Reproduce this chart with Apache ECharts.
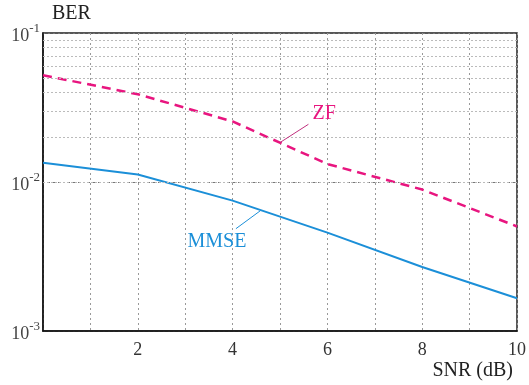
<!DOCTYPE html>
<html>
<head>
<meta charset="utf-8">
<script src="https://cdn.jsdelivr.net/npm/echarts@6/dist/echarts.min.js"></script>
<style>
  html, body { margin: 0; padding: 0; background: #fff; }
  #chart { width: 529px; height: 385px; }
</style>
</head>
<body>
<div id="chart"></div>
<script>
// SNR points (dB) and BER
const snr = [0, 2, 4, 6, 8, 10];
const berZF = [0.0521, 0.0388, 0.0255, 0.0132, 0.0089, 0.00503];
const berMMSE = [0.01346, 0.01123, 0.0075, 0.00457, 0.00269, 0.00166];
// minor grid values of the log axis
const minorTicks = [0.002, 0.003, 0.004, 0.005, 0.006, 0.007, 0.008, 0.009,
                    0.02, 0.03, 0.04, 0.05, 0.06, 0.07, 0.08, 0.09];
const xTickLabels = ['', '', '2', '', '4', '', '6', '', '8', '', '10'];

const zfColor = '#e8157f';
const mmseColor = '#1b8fd8';
const serif = 'Liberation Serif';

const chart = echarts.init(document.getElementById('chart'));

const option = {
    animation: false,
    grid: {
        left: 43, right: 9, top: 33, bottom: 54,
        show: true, borderColor: '#222', borderWidth: 1.5,
        containLabel: false
    },
    xAxis: {
        type: 'value',
        min: 0, max: 10, interval: 1,
        name: 'SNR (dB)',
        nameLocation: 'end',
        nameGap: -4,
        nameTextStyle: {
            fontFamily: serif, fontSize: 20, color: '#222',
            align: 'right', verticalAlign: 'top', padding: [30, 0, 0, 0]
        },
        axisLine: { lineStyle: { color: '#111', width: 1.5 } },
        axisTick: { show: false },
        axisLabel: {
            margin: 10,
            fontFamily: serif, fontSize: 18, color: '#333',
            formatter: v => xTickLabels[Math.round(v)] || ''
        },
        splitLine: {
            show: true,
            lineStyle: { color: '#999', type: [2, 3], width: 1 }
        }
    },
    yAxis: {
        type: 'log',
        logBase: 10,
        min: 0.001, max: 0.1,
        name: 'BER',
        nameLocation: 'end',
        nameGap: 9,
        nameTextStyle: {
            fontFamily: serif, fontSize: 20, color: '#222',
            align: 'left', verticalAlign: 'bottom', padding: [0, 0, 0, 9]
        },
        axisLine: { show: true, lineStyle: { color: '#111', width: 1.5 } },
        axisTick: { show: false },
        axisLabel: {
            margin: 3,
            formatter: v => '{b|10}{s|' + Math.round(Math.log10(v)) + '}',
            rich: {
                b: { fontFamily: serif, fontSize: 18, color: '#444', padding: [6, 0, 0, 0] },
                s: { fontFamily: serif, fontSize: 13, color: '#444', padding: [0, 0, 8, 0] }
            }
        },
        splitLine: {
            show: true,
            lineStyle: { color: '#777', type: [2, 3], width: 1 }
        }
    },
    series: [
        {
            name: 'grid-minor',
            type: 'line',
            data: [],
            silent: true,
            markLine: {
                silent: true,
                symbol: 'none',
                label: { show: false },
                lineStyle: { color: '#bbb', type: [2, 2], width: 1 },
                data: minorTicks.map(v => ({ yAxis: v }))
            }
        },
        {
            name: 'ZF',
            type: 'line',
            data: snr.map((x, i) => [x, berZF[i]]),
            showSymbol: false,
            lineStyle: { color: zfColor, width: 2.5, type: [9, 6] },
            markLine: {
                silent: true,
                symbol: 'none',
                label: { show: false },
                lineStyle: { color: '#c0307e', type: 'solid', width: 1 },
                data: [[{ coord: [5.0, 0.0184] }, { coord: [5.6, 0.0244] }]]
            },
            markPoint: {
                symbol: 'circle',
                symbolSize: 0,
                label: {
                    show: true, position: 'inside', formatter: 'ZF',
                    fontFamily: serif, fontSize: 20, color: zfColor
                },
                data: [{ coord: [5.93, 0.0285] }]
            }
        },
        {
            name: 'MMSE',
            type: 'line',
            data: snr.map((x, i) => [x, berMMSE[i]]),
            showSymbol: false,
            lineStyle: { color: mmseColor, width: 2 },
            markLine: {
                silent: true,
                symbol: 'none',
                label: { show: false },
                lineStyle: { color: mmseColor, type: 'solid', width: 1 },
                data: [[{ coord: [4.59, 0.00643] }, { coord: [4.07, 0.00486] }]]
            },
            markPoint: {
                symbol: 'circle',
                symbolSize: 0,
                label: {
                    show: true, position: 'inside', formatter: 'MMSE',
                    fontFamily: serif, fontSize: 20, color: mmseColor
                },
                data: [{ coord: [3.67, 0.00397] }]
            }
        }
    ]
};

chart.setOption(option);
</script>
</body>
</html>
